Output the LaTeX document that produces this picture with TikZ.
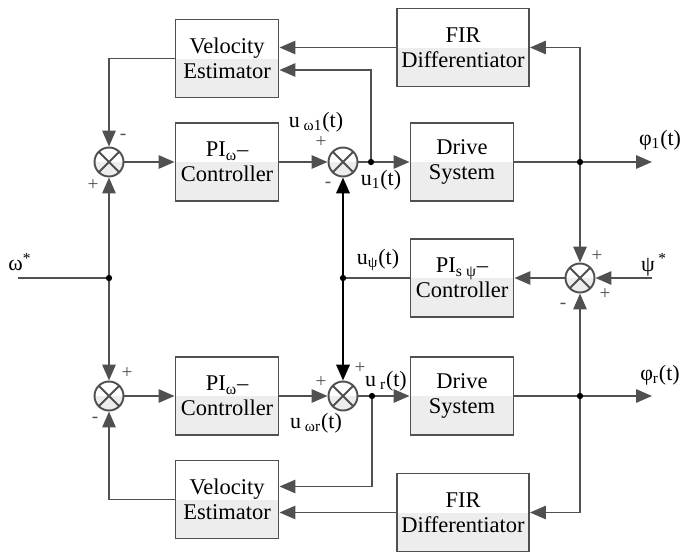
\documentclass[tikz,border=0pt]{standalone}
\usepackage{fontspec}
\setmainfont{Liberation Serif}
\newfontfamily\diafont{Liberation Serif}
\usetikzlibrary{positioning, arrows.meta, calc}
\definecolor{linegray}{HTML}{505050}
\definecolor{fillgray}{HTML}{EDEDED}

\begin{document}
\begin{tikzpicture}[x=0.02cm, y=-0.02cm, ->, >={Triangle[length=9pt, width=7.5pt]}, line width=1.1pt, draw=linegray,
    block/.style={draw, align=center, minimum width=2.06cm, minimum height=1.56cm, inner sep=2pt,
      font=\diafont\fontsize{12.8}{14}\selectfont,
      path picture={\fill[fillgray] (path picture bounding box.west) rectangle (path picture bounding box.south east);}},
    wideblock/.style={block, minimum width=2.64cm},
    sumj/.style={circle, draw, minimum size=0.58cm, inner sep=0pt,
      path picture={\fill[fillgray] (path picture bounding box.west) rectangle (path picture bounding box.south east);
        \draw[-] (path picture bounding box.north west) -- (path picture bounding box.south east)
                 (path picture bounding box.north east) -- (path picture bounding box.south west);}},
    sgn/.style={font=\diafont\fontsize{11}{11}\selectfont, text=linegray, inner sep=0pt},
    lbl/.style={font=\diafont\fontsize{12.5}{12}\selectfont, inner sep=0pt}]
    \useasboundingbox (0,0) rectangle (685,551);

    \node[block] (vel1) at (227,58.5) {Velocity\\Estimator};
    \node[wideblock] (fir1) at (463,47.5) {FIR\\Differentiator};
    \node[sumj] (s1a) at (109,162) {};
    \node[block] (pi1) at (227,162) {PI\textsubscript{ω}–\\Controller};
    \node[sumj] (s2a) at (343,162) {};
    \node[block] (drv1) at (462,162) {Drive\\System};
    \node[block] (pis) at (462,278) {PI\textsubscript{s ψ}–\\Controller};
    \node[sumj] (s3) at (580,278) {};
    \node[sumj] (s1b) at (109,396) {};
    \node[block] (pi2) at (227,396) {PI\textsubscript{ω}–\\Controller};
    \node[sumj] (s2b) at (343,396) {};
    \node[block] (drv2) at (462,396) {Drive\\System};
    \node[block] (vel2) at (227,499.5) {Velocity\\Estimator};
    \node[wideblock] (fir2) at (463,512.5) {FIR\\Differentiator};

    \coordinate (win) at (18,278);
    \coordinate (wd) at (109,278);
    \coordinate (d1) at (371,162);
    \coordinate (d2) at (372,396);
    \coordinate (ud) at (343,278);
    \coordinate (r1) at (580,162);
    \coordinate (r2) at (580,396);
    \coordinate (o1) at (652,162);
    \coordinate (o2) at (652,396);
    \coordinate (pin) at (652,278);

    \draw[-] (win) -- (wd);
    \draw (wd) -- (s1a.south);
    \draw (wd) -- (s1b.north);
    \draw (vel1.west) -| (s1a.north);
    \draw (vel2.west) -| (s1b.south);
    \draw (s1a) -- (pi1);
    \draw (pi1) -- (s2a);
    \draw (s2a) -- (drv1);
    \draw (s1b) -- (pi2);
    \draw (pi2) -- (s2b);
    \draw (s2b) -- (drv2);
    \draw (drv1) -- (o1);
    \draw (drv2) -- (o2);
    \draw (fir1.west) -- (fir1.west -| vel1.east);
    \draw (fir2.west) -- (fir2.west -| vel2.east);
    \draw (d1) |- ($(vel1.east)+(0,11.5)$);
    \draw (d2) |- ($(vel2.east)+(0,-13)$);
    \draw (r1) |- (fir1.east);
    \draw (r1) -- (s3.north);
    \draw (r2) -- (s3.south);
    \draw (r2) |- (fir2.east);
    \draw (pin) -- (s3);
    \draw (s3) -- (pis);
    \draw[-] (pis.west) -- (ud);
    \draw[black, line width=1.5pt] (ud) -- (s2a.south);
    \draw[black, line width=1.5pt] (ud) -- (s2b.north);
    \foreach \p in {wd, d1, d2, ud, r1, r2}
        \fill[black] (\p) circle (1.8pt);

    \node[lbl] (lw) at (20,262) {ω\textsuperscript{*}};
    \node[lbl] (lpsi) at (654,265) {ψ\,\textsuperscript{*}};
    \node[lbl] (lphi1) at (660,140) {φ\textsubscript{1}(t)};
    \node[lbl] (lphir) at (660,375) {φ\textsubscript{r}(t)};
    \node[lbl] (luw1) at (316,122) {u\textsubscript{ ω1}(t)};
    \node[lbl] (lu1) at (381,180) {u\textsubscript{1}(t)};
    \node[lbl] (lupsi) at (378,260) {u\textsubscript{ψ}(t)};
    \node[lbl] (lur) at (386,381) {u\textsubscript{ r}(t)};
    \node[lbl] (luwr) at (316,423) {u\textsubscript{ ωr}(t)};

    \node[sgn] (m1) at (123,137) {-};
    \node[sgn] (p1) at (93,185) {+};
    \node[sgn] (p2) at (321,142) {+};
    \node[sgn] (m2) at (328,185) {-};
    \node[sgn] (p3) at (127,373) {+};
    \node[sgn] (m3) at (95,420) {-};
    \node[sgn] (p4) at (321,382) {+};
    \node[sgn] (p5) at (360,368) {+};
    \node[sgn] (p6) at (597,256) {+};
    \node[sgn] (p7) at (605,294) {+};
    \node[sgn] (m4) at (563,306) {-};
\end{tikzpicture}
\end{document}
